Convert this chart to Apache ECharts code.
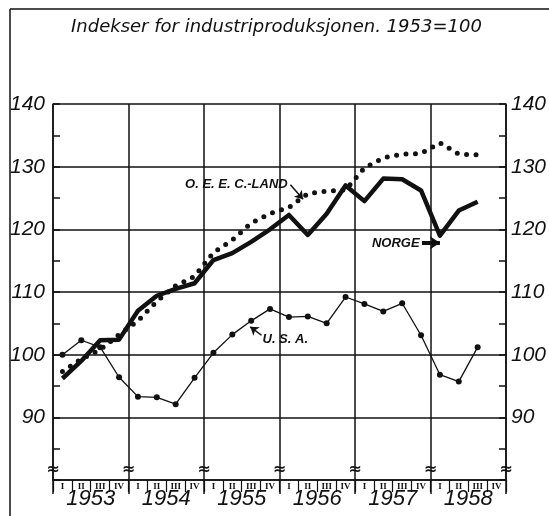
<!DOCTYPE html>
<html>
<head>
<meta charset="utf-8">
<script src="https://cdn.jsdelivr.net/npm/echarts@6/dist/echarts.min.js"></script>
<style>
html,body{margin:0;padding:0;background:#fff;}
#c{width:549px;height:516px;}
</style>
</head>
<body>
<div id="c"></div>
<script>
// ---- data ----
const years = ['1953', '1954', '1955', '1956', '1957', '1958'];
const quarterNames = ['I', 'II', 'III', 'IV'];
const quarterLabels = years.flatMap(() => quarterNames);

// 1953 Q1 ... 1958 Q3
const usa = [100.0, 102.3, 101.2, 96.4, 93.3, 93.2, 92.1, 96.3, 100.3, 103.2, 105.4, 107.3,
             106.0, 106.1, 105.0, 109.2, 108.1, 106.9, 108.2, 103.1, 96.8, 95.7, 101.2];
const norge = [96.2, 99.0, 102.3, 102.4, 107.0, 109.4, 110.5, 111.4, 115.1, 116.2, 118.0, 120.0,
               122.3, 119.1, 122.5, 127.0, 124.5, 128.1, 128.0, 126.2, 119.0, 123.0, 124.4];
const oeec = [97.3, 99.3, 100.8, 103.2, 105.4, 108.5, 111.0, 112.5, 116.3, 118.3, 121.0, 122.5,
              123.5, 125.7, 126.1, 126.3, 129.8, 131.4, 132.0, 132.1, 133.8, 132.0, 131.9];

const yMin = 80, yMax = 140, yStep = 10, yFirstLabel = 90;

// annotations in data coordinates (x = quarter index, y = index value)
const labelNotes = [
  { text: 'O. E. E. C.-LAND', x: 7.0, y: 127.2 },
  { text: 'U. S. A.', x: 11.1, y: 102.5 },
  { text: 'NORGE', x: 16.9, y: 117.8 }
];
const arrowNotes = [
  { from: [12.58, 127.1], to: [13.25, 124.8], width: 1.5, size: 8 },
  { from: [11.05, 103.1], to: [10.45, 104.45], width: 1.5, size: 8 },
  { from: [19.55, 117.85], to: [20.5, 117.85], width: 4, size: 10 }
];
const breakMarks = [0, 4, 8, 12, 16, 20, 24];

// ---- chart ----
const toXY = arr => arr.map((v, i) => [i + 0.5, v]);
const ink = '#111';
const chart = echarts.init(document.getElementById('c'), null, { renderer: 'canvas' });

const yAxisBase = pos => ({
  type: 'value', position: pos, min: yMin, max: yMax, interval: yStep,
  axisLine: { show: true, lineStyle: { color: ink, width: 1.5 } },
  axisTick: { show: true, inside: true, length: 7, lineStyle: { color: ink, width: 1.5 } },
  minorTick: { show: true, splitNumber: 2, length: 7, lineStyle: { color: ink, width: 1.5 } },
  splitLine: { show: pos === 'left', lineStyle: { color: ink, width: 1.5 } },
  axisLabel: {
    margin: pos === 'left' ? 8 : 5,
    color: ink, fontSize: 21, fontStyle: 'italic', fontFamily: 'Liberation Sans',
    formatter: v => (v >= yFirstLabel ? String(v) : '')
  }
});

chart.setOption({
  animation: false,
  backgroundColor: '#fff',
  title: {
    text: 'Indekser for industriproduksjonen. 1953=100',
    left: 66, top: 13,
    textStyle: { color: ink, fontSize: 18, fontStyle: 'italic', fontWeight: 'normal', fontFamily: 'DejaVu Sans' }
  },
  graphic: [
    { type: 'line', shape: { x1: 10, y1: 9, x2: 549, y2: 9 }, style: { stroke: ink, lineWidth: 1.5 } },
    { type: 'line', shape: { x1: 10, y1: 9, x2: 10, y2: 516 }, style: { stroke: ink, lineWidth: 1.5 } }
  ],
  grid: { left: 53, right: 42, top: 104, bottom: 36 },
  xAxis: [
    {
      type: 'category', data: quarterLabels, position: 'bottom', boundaryGap: true,
      axisLine: { show: true, lineStyle: { color: ink, width: 1.5 } },
      axisTick: { show: true, interval: 0, length: 12, lineStyle: { color: ink, width: 1.2 } },
      axisLabel: { interval: 0, margin: 2, color: ink, fontSize: 9, fontWeight: 'bold', fontFamily: 'Liberation Serif' },
      splitLine: { show: true, interval: i => i % 4 === 0, lineStyle: { color: ink, width: 1.5 } }
    },
    {
      type: 'category', data: years, position: 'bottom', boundaryGap: true,
      axisLine: { show: false },
      axisTick: { show: true, interval: 0, length: 14, lineStyle: { color: ink, width: 1.5 } },
      axisLabel: { interval: 0, margin: 8, color: ink, fontSize: 22, fontStyle: 'italic', fontFamily: 'Liberation Sans' },
      splitLine: { show: false }
    },
    { type: 'value', min: 0, max: 24, show: false, position: 'top' }
  ],
  yAxis: [yAxisBase('left'), yAxisBase('right')],
  series: [
    {
      name: 'OEEC', type: 'line', xAxisIndex: 2, yAxisIndex: 0, data: toXY(oeec),
      showSymbol: false, symbol: 'none',
      lineStyle: { color: ink, width: 5, type: [0, 9.5], cap: 'round' }
    },
    {
      name: 'Norge', type: 'line', xAxisIndex: 2, yAxisIndex: 0, data: toXY(norge),
      showSymbol: false, symbol: 'none',
      lineStyle: { color: ink, width: 4.5, join: 'round' }
    },
    {
      name: 'USA', type: 'line', xAxisIndex: 2, yAxisIndex: 0, data: toXY(usa),
      symbol: 'circle', symbolSize: 6, itemStyle: { color: ink },
      lineStyle: { color: ink, width: 1.3 },
      markPoint: {
        symbol: 'circle', symbolSize: 0,
        data: [
          ...labelNotes.map(n => ({
            coord: [n.x, n.y], value: n.text,
            label: { show: true, position: 'right', distance: 0, formatter: n.text, color: ink,
                     fontSize: 13, fontStyle: 'italic', fontWeight: 'bold', fontFamily: 'Liberation Sans' }
          })),
          ...breakMarks.map(b => ({
            coord: [b, 81.7], value: '≈',
            label: { show: true, position: 'inside', formatter: '≈', color: ink,
                     fontSize: 16, fontWeight: 'bold', fontFamily: 'DejaVu Sans' }
          }))
        ]
      },
      markLine: {
        silent: true, symbol: ['none', 'arrow'], label: { show: false },
        data: arrowNotes.map(a => [
          { coord: a.from, symbolSize: 0, lineStyle: { color: ink, width: a.width, type: 'solid' } },
          { coord: a.to, symbolSize: a.size }
        ]),
        lineStyle: { color: ink, type: 'solid' }
      }
    }
  ]
});
</script>
</body>
</html>
